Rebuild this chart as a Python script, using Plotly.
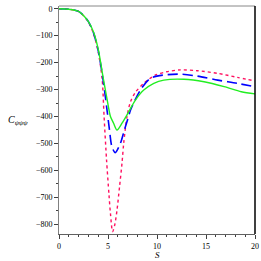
import plotly.graph_objects as go

red_x = [0, 1, 2, 2.5, 3, 3.5, 4, 4.4, 4.6, 4.85, 5.1, 5.25, 5.47, 5.7, 5.92, 6.18, 6.43, 6.6, 6.94, 7.3, 7.8, 8.65, 9.85, 11, 12.4, 14.1, 16.2, 18.2, 20]
red_y = [0, -2, -10, -26, -50, -90, -160, -260, -400, -560, -690, -760, -827, -800, -747, -660, -573, -500, -400, -345, -310, -277, -246, -234, -227, -230, -240, -255, -268]

blue_x = [0, 1, 2, 2.5, 3, 3.5, 4, 4.5, 4.9, 5.15, 5.4, 5.74, 6.26, 6.67, 7.1, 7.3, 8.3, 9.33, 10.7, 12.4, 14.1, 16.2, 18.2, 20]
blue_y = [0, -2, -10, -25, -48, -87, -155, -265, -376, -450, -512, -534, -500, -450, -400, -376, -302, -258, -246, -243, -250, -265, -277, -290]

green_x = [0, 1, 2, 2.5, 3, 3.5, 4, 4.5, 5, 5.25, 5.57, 5.92, 6.43, 6.94, 7.3, 7.8, 8.65, 9.67, 10.7, 12.75, 14.8, 16.85, 18.6, 20]
green_y = [0, -2, -10, -25, -48, -85, -150, -255, -355, -400, -425, -450, -425, -394, -370, -339, -302, -277, -265, -262, -271, -289, -308, -316]

x_ticks = [0, 5, 10, 15, 20]
y_ticks = [0, -100, -200, -300, -400, -500, -600, -700, -800]

fig = go.Figure()
fig.add_trace(go.Scatter(x=red_x, y=red_y, mode="lines",
                         line=dict(color="#ff1060", width=1.4, dash="dot", shape="spline", smoothing=0.8)))
fig.add_trace(go.Scatter(x=blue_x, y=blue_y, mode="lines",
                         line=dict(color="#0000ff", width=1.6, dash="10px,5px", shape="spline", smoothing=0.8)))
fig.add_trace(go.Scatter(x=green_x, y=green_y, mode="lines",
                         line=dict(color="#22ee22", width=1.4, shape="spline", smoothing=0.8)))

font = dict(family="Liberation Serif", size=8, color="#000000")
fig.update_layout(
    width=261, height=261,
    margin=dict(l=59, r=6, t=6, b=27, autoexpand=False),
    paper_bgcolor="white", plot_bgcolor="white",
    showlegend=False,
    font=font,
    xaxis=dict(range=[0, 20], tickvals=x_ticks, ticktext=[str(v) for v in x_ticks], automargin=False,
               showgrid=False, zeroline=False, showline=True, linecolor="#606060", linewidth=1,
               ticks="outside", ticklen=4, tickcolor="#404040", tickfont=font,
               minor=dict(dtick=1, ticks="outside", ticklen=2, tickcolor="#404040", showgrid=False)),
    yaxis=dict(range=[-836, 10], tickvals=y_ticks, ticktext=["0" if v == 0 else "\u2212" + str(-v) for v in y_ticks],
               automargin=False,
               showgrid=False, zeroline=False, showline=True, linecolor="#808080", linewidth=1,
               ticks="outside", ticklen=4, tickcolor="#404040", tickfont=font,
               minor=dict(dtick=50, ticks="outside", ticklen=2, tickcolor="#404040", showgrid=False)),
    shapes=[
        dict(type="line", xref="paper", yref="paper", x0=0, x1=1, y0=1, y1=1, line=dict(color="#888888", width=1)),
        dict(type="line", xref="paper", yref="paper", x0=1, x1=1, y0=0, y1=1, line=dict(color="#000000", width=1.5)),
    ],
    annotations=[
        dict(text="<i>S</i>", xref="paper", yref="paper", x=0.5, y=0, yshift=-21, yanchor="middle", showarrow=False,
             font=dict(family="Liberation Serif", size=9)),
        dict(text="<i>C</i><sub><i>\u03c8\u03c8\u03c8</i></sub>", xref="paper", yref="paper",
             x=-0.21, y=0.5, xanchor="center", yanchor="middle", showarrow=False,
             font=dict(family="Liberation Serif", size=10)),
    ],
)
fig.write_html("out.html", config={"displayModeBar": False},
               post_script="document.body.style.margin='0';document.body.style.overflow='hidden';")
